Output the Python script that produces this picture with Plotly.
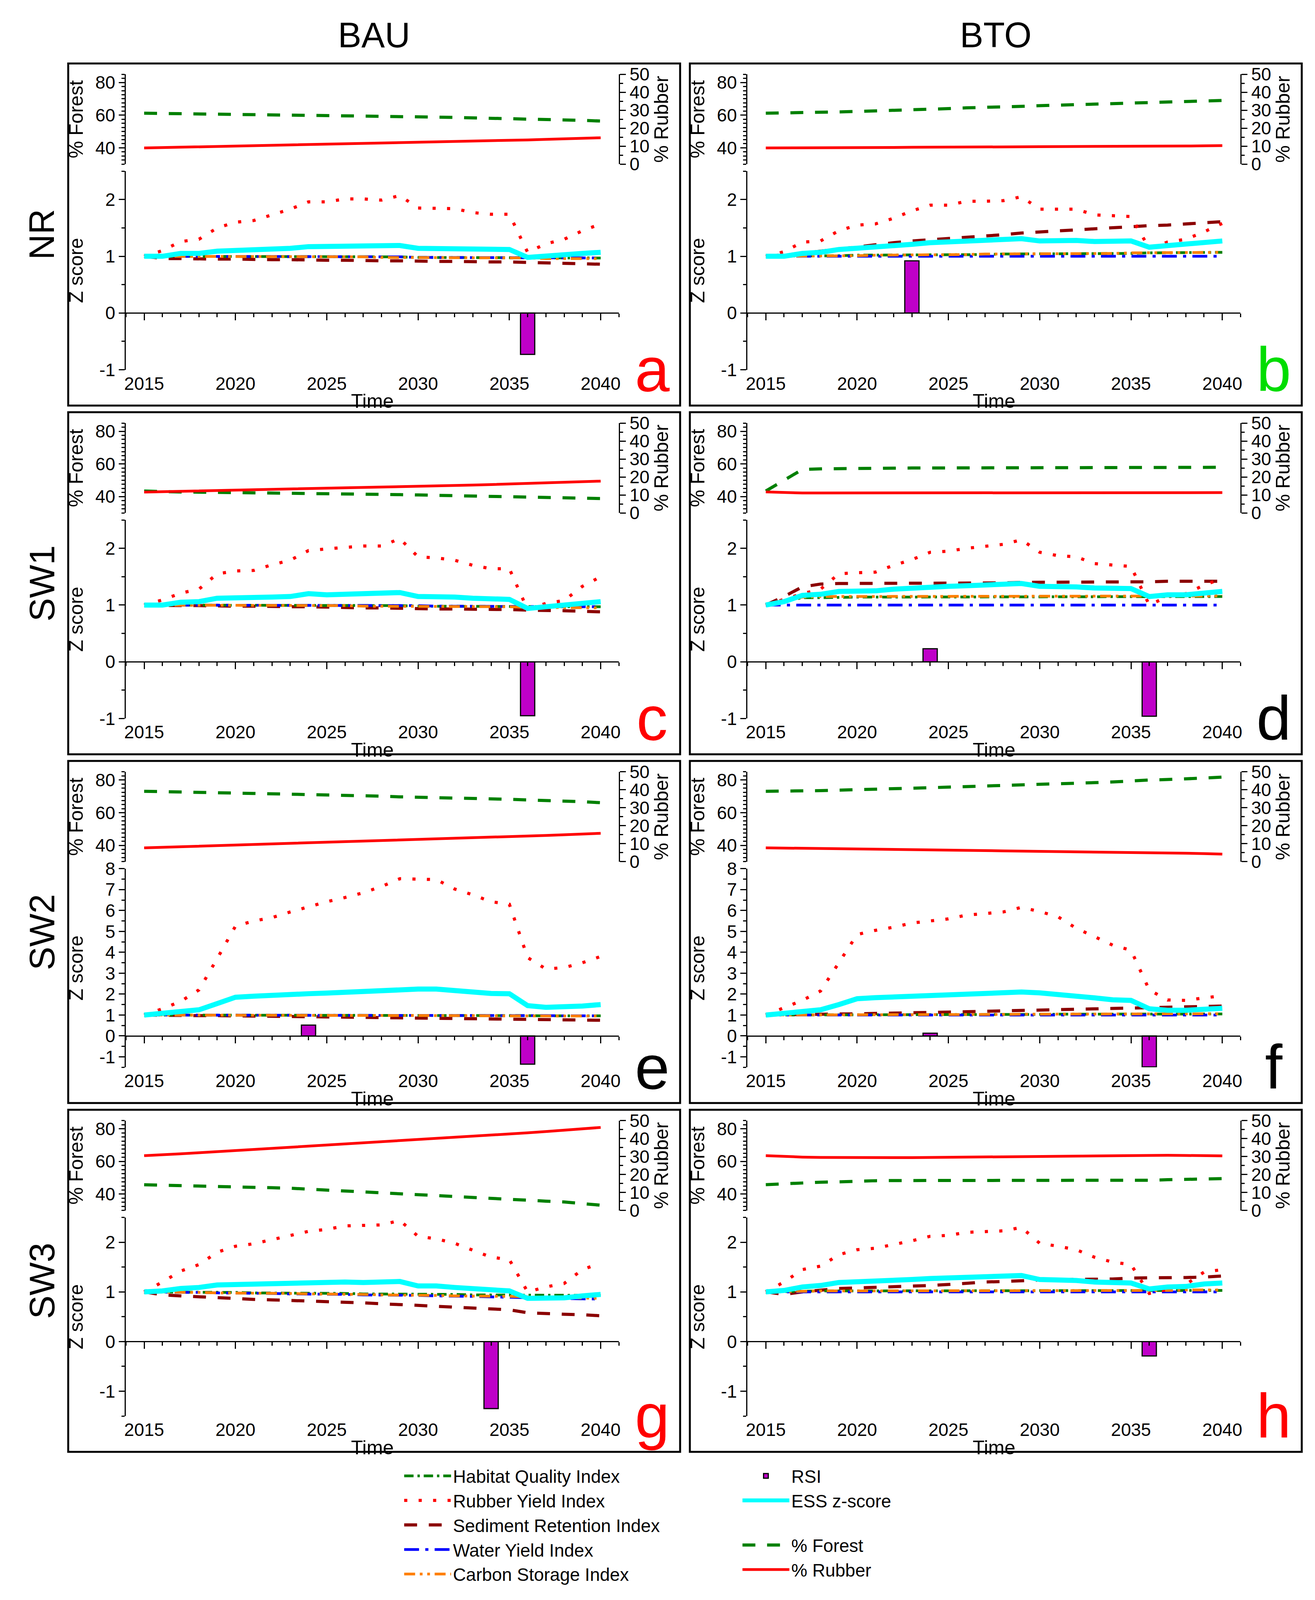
import plotly.graph_objects as go

# ---------------- data ----------------
years = list(range(2015, 2041))
tick_years = [2015, 2020, 2025, 2030, 2035, 2040]
forest_ticks = [40, 60, 80]
rubber_ticks = [0, 10, 20, 30, 40, 50]
z_ticks_small = [-1, 0, 1, 2]
z_ticks_large = [-1, 0, 1, 2, 3, 4, 5, 6, 7, 8]

col_titles = ["BAU", "BTO"]
row_titles = ["NR", "SW1", "SW2", "SW3"]
panel_letters = ["a", "b", "c", "d", "e", "f", "g", "h"]

# ---- panel a (NR, BAU)
forest_a = [61.2, 61.0, 60.9, 60.7, 60.6, 60.4, 60.3, 60.2, 60.0, 59.9, 59.8, 59.6, 59.5, 59.3, 59.2, 59.0, 58.8, 58.6, 58.4, 58.2, 58.0, 57.7, 57.4, 57.1, 56.8, 56.4]
rubber_a = [9.0, 9.2, 9.4, 9.6, 9.8, 10.0, 10.2, 10.4, 10.6, 10.8, 11.0, 11.2, 11.4, 11.6, 11.8, 12.0, 12.3, 12.5, 12.7, 12.9, 13.2, 13.5, 13.8, 14.1, 14.4, 14.7]
hqi_a = [1.00, 1.00, 1.00, 1.00, 1.00, 1.00, 1.00, 0.99, 0.99, 0.99, 0.99, 0.99, 0.99, 0.99, 0.99, 0.98, 0.98, 0.98, 0.98, 0.98, 0.98, 0.98, 0.97, 0.97, 0.97, 0.97]
ryi_a = [1.00, 1.10, 1.26, 1.30, 1.50, 1.60, 1.63, 1.73, 1.83, 1.96, 1.96, 2.01, 2.01, 1.99, 2.07, 1.85, 1.85, 1.84, 1.77, 1.74, 1.74, 1.07, 1.22, 1.30, 1.45, 1.57]
sri_a = [1.00, 0.96, 0.96, 0.95, 0.95, 0.95, 0.94, 0.94, 0.94, 0.93, 0.93, 0.93, 0.92, 0.92, 0.92, 0.91, 0.91, 0.91, 0.90, 0.90, 0.90, 0.89, 0.88, 0.88, 0.87, 0.86]
wyi_a = [1.00, 1.00, 1.00, 1.00, 1.00, 1.00, 1.00, 1.00, 0.99, 0.99, 0.99, 0.99, 0.99, 0.99, 0.99, 0.98, 0.98, 0.98, 0.98, 0.98, 0.98, 0.97, 0.97, 0.97, 0.97, 0.97]
csi_a = [1.00, 1.00, 1.00, 1.00, 1.00, 1.00, 1.00, 0.99, 0.99, 0.99, 0.99, 0.99, 0.99, 0.98, 0.98, 0.98, 0.98, 0.98, 0.98, 0.97, 0.97, 0.97, 0.96, 0.96, 0.96, 0.96]
ess_a = [1.00, 1.00, 1.05, 1.05, 1.09, 1.10, 1.11, 1.13, 1.14, 1.17, 1.17, 1.18, 1.17, 1.17, 1.19, 1.14, 1.14, 1.14, 1.12, 1.12, 1.12, 0.98, 1.01, 1.02, 1.05, 1.07]
rsi_a = [None] * 21 + [-0.73] + [None] * 4

# ---- panel b (NR, BTO)
forest_b = [61.2, 61.3, 61.4, 61.8, 62.0, 62.3, 62.6, 62.8, 63.3, 63.6, 64.0, 64.5, 64.7, 65.0, 65.4, 65.8, 66.1, 66.3, 66.6, 66.9, 67.2, 67.6, 67.9, 68.2, 68.6, 69.0]
rubber_b = [9.0, 9.0, 9.1, 9.1, 9.2, 9.2, 9.3, 9.3, 9.4, 9.4, 9.5, 9.5, 9.6, 9.6, 9.7, 9.7, 9.8, 9.8, 9.9, 9.9, 10.0, 10.0, 10.1, 10.1, 10.2, 10.3]
hqi_b = [1.00, 1.00, 1.01, 1.01, 1.01, 1.02, 1.02, 1.02, 1.02, 1.03, 1.03, 1.03, 1.03, 1.04, 1.04, 1.04, 1.04, 1.05, 1.05, 1.05, 1.05, 1.06, 1.06, 1.06, 1.07, 1.07]
ryi_b = [1.00, 1.08, 1.25, 1.27, 1.45, 1.55, 1.57, 1.67, 1.80, 1.90, 1.90, 1.97, 1.97, 1.98, 2.05, 1.83, 1.83, 1.83, 1.73, 1.71, 1.70, 1.14, 1.25, 1.30, 1.43, 1.58]
sri_b = [1.00, 1.02, 1.05, 1.09, 1.13, 1.17, 1.20, 1.24, 1.27, 1.29, 1.31, 1.34, 1.36, 1.38, 1.41, 1.43, 1.45, 1.47, 1.49, 1.51, 1.52, 1.54, 1.55, 1.57, 1.59, 1.61]
wyi_b = [1.00] * 26
csi_b = [1.00, 1.00, 1.01, 1.01, 1.01, 1.01, 1.02, 1.02, 1.02, 1.03, 1.03, 1.03, 1.04, 1.04, 1.04, 1.04, 1.05, 1.05, 1.05, 1.05, 1.06, 1.06, 1.06, 1.07, 1.07, 1.07]
ess_b = [1.00, 1.00, 1.05, 1.07, 1.12, 1.14, 1.15, 1.18, 1.21, 1.24, 1.25, 1.28, 1.28, 1.29, 1.31, 1.27, 1.28, 1.28, 1.26, 1.26, 1.27, 1.16, 1.19, 1.20, 1.24, 1.27]
rsi_b = [None] * 8 + [0.92] + [None] * 17

# ---- panel c (SW1, BAU)
forest_c = [43.4, 43.0, 42.8, 42.7, 42.6, 42.5, 42.3, 42.2, 42.1, 42.0, 41.9, 41.8, 41.6, 41.4, 41.2, 41.0, 40.8, 40.7, 40.5, 40.4, 40.2, 39.9, 39.6, 39.3, 39.0, 38.8]
rubber_c = [11.6, 11.8, 12.0, 12.2, 12.4, 12.6, 12.8, 13.0, 13.2, 13.4, 13.6, 13.8, 14.0, 14.2, 14.5, 14.7, 15.0, 15.2, 15.5, 15.8, 16.1, 16.4, 16.7, 17.0, 17.3, 17.7]
hqi_c = [1.00, 1.00, 1.00, 1.00, 1.00, 1.00, 1.00, 1.00, 0.99, 0.99, 0.99, 0.99, 0.99, 0.99, 0.99, 0.98, 0.98, 0.98, 0.98, 0.98, 0.98, 0.97, 0.97, 0.97, 0.97, 0.97]
ryi_c = [1.00, 1.09, 1.21, 1.28, 1.55, 1.60, 1.61, 1.71, 1.79, 1.96, 1.99, 2.02, 2.04, 2.04, 2.17, 1.85, 1.83, 1.79, 1.70, 1.64, 1.64, 0.92, 1.03, 1.08, 1.33, 1.50]
sri_c = [1.00, 0.99, 0.99, 0.99, 0.98, 0.98, 0.98, 0.97, 0.97, 0.97, 0.96, 0.96, 0.95, 0.95, 0.94, 0.94, 0.93, 0.93, 0.93, 0.92, 0.92, 0.91, 0.91, 0.90, 0.89, 0.88]
wyi_c = [1.00, 1.00, 1.00, 1.00, 1.00, 1.00, 1.00, 1.00, 0.99, 0.99, 0.99, 0.99, 0.99, 0.99, 0.99, 0.99, 0.98, 0.98, 0.98, 0.98, 0.98, 0.97, 0.97, 0.97, 0.97, 0.97]
csi_c = [1.00, 1.00, 1.00, 1.00, 1.00, 1.00, 0.99, 0.99, 0.99, 0.99, 0.99, 0.99, 0.98, 0.98, 0.98, 0.98, 0.98, 0.97, 0.97, 0.97, 0.97, 0.96, 0.96, 0.96, 0.95, 0.95]
ess_c = [1.00, 1.00, 1.05, 1.06, 1.12, 1.12, 1.12, 1.14, 1.15, 1.20, 1.18, 1.19, 1.19, 1.19, 1.22, 1.15, 1.15, 1.14, 1.12, 1.10, 1.10, 0.94, 0.97, 0.98, 1.03, 1.06]
rsi_c = [None] * 21 + [-0.95] + [None] * 4

# ---- panel d (SW1, BTO)
forest_d = [43.4, 50.0, 56.6, 57.0, 57.2, 57.3, 57.4, 57.4, 57.5, 57.5, 57.5, 57.5, 57.5, 57.5, 57.5, 57.5, 57.6, 57.6, 57.6, 57.6, 57.6, 57.7, 57.7, 57.8, 57.9, 58.0]
rubber_d = [11.7, 11.3, 11.1, 11.1, 11.1, 11.1, 11.1, 11.1, 11.1, 11.2, 11.2, 11.3, 11.3, 11.3, 11.3, 11.3, 11.3, 11.3, 11.3, 11.3, 11.3, 11.3, 11.3, 11.3, 11.3, 11.3]
hqi_d = [1.00, 1.06, 1.13, 1.13, 1.14, 1.14, 1.14, 1.14, 1.14, 1.14, 1.14, 1.14, 1.14, 1.14, 1.14, 1.14, 1.14, 1.14, 1.14, 1.14, 1.14, 1.14, 1.15, 1.15, 1.15, 1.15]
ryi_d = [1.00, 1.10, 1.20, 1.28, 1.55, 1.57, 1.58, 1.70, 1.80, 1.93, 1.95, 2.00, 2.03, 2.07, 2.15, 1.93, 1.87, 1.85, 1.73, 1.70, 1.68, 1.00, 1.15, 1.20, 1.35, 1.47]
sri_d = [1.00, 1.15, 1.32, 1.37, 1.38, 1.38, 1.38, 1.38, 1.38, 1.38, 1.38, 1.38, 1.39, 1.39, 1.40, 1.40, 1.40, 1.41, 1.41, 1.41, 1.41, 1.41, 1.42, 1.42, 1.42, 1.42]
wyi_d = [1.00] * 26
csi_d = [1.00, 1.07, 1.14, 1.15, 1.15, 1.15, 1.15, 1.15, 1.15, 1.15, 1.15, 1.15, 1.15, 1.15, 1.15, 1.15, 1.15, 1.15, 1.15, 1.15, 1.15, 1.16, 1.16, 1.16, 1.16, 1.16]
ess_d = [1.00, 1.06, 1.17, 1.19, 1.24, 1.24, 1.25, 1.28, 1.30, 1.33, 1.33, 1.34, 1.35, 1.36, 1.38, 1.33, 1.33, 1.32, 1.30, 1.29, 1.29, 1.15, 1.18, 1.18, 1.22, 1.24]
rsi_d = [None] * 9 + [0.23] + [None] * 11 + [-0.96] + [None] * 4

# ---- panel e (SW2, BAU)
forest_e = [73.1, 72.8, 72.5, 72.4, 72.2, 72.0, 71.8, 71.6, 71.4, 71.3, 70.9, 70.5, 70.3, 70.1, 69.7, 69.5, 69.3, 69.0, 68.6, 68.4, 68.2, 67.8, 67.5, 67.2, 66.7, 66.1]
rubber_e = [7.7, 8.0, 8.3, 8.6, 8.9, 9.2, 9.5, 9.8, 10.1, 10.4, 10.7, 11.0, 11.3, 11.6, 11.9, 12.2, 12.5, 12.8, 13.1, 13.4, 13.8, 14.2, 14.6, 15.0, 15.4, 15.8]
hqi_e = [1.00, 1.00, 1.00, 1.00, 1.00, 1.00, 0.99, 0.99, 0.99, 0.99, 0.99, 0.99, 0.98, 0.98, 0.98, 0.98, 0.98, 0.97, 0.97, 0.97, 0.97, 0.97, 0.96, 0.96, 0.96, 0.96]
ryi_e = [1.00, 1.30, 1.65, 2.20, 3.70, 5.25, 5.50, 5.66, 5.93, 6.17, 6.42, 6.62, 6.85, 7.15, 7.52, 7.50, 7.48, 7.03, 6.75, 6.42, 6.30, 3.75, 3.20, 3.27, 3.50, 3.80]
sri_e = [1.00, 0.98, 0.98, 0.97, 0.97, 0.96, 0.95, 0.94, 0.94, 0.93, 0.92, 0.91, 0.90, 0.89, 0.88, 0.87, 0.86, 0.85, 0.84, 0.83, 0.82, 0.81, 0.79, 0.78, 0.77, 0.75]
wyi_e = [1.00, 1.00, 1.00, 1.00, 1.00, 1.00, 1.00, 0.99, 0.99, 0.99, 0.99, 0.99, 0.99, 0.98, 0.98, 0.98, 0.98, 0.98, 0.97, 0.97, 0.97, 0.97, 0.97, 0.96, 0.96, 0.96]
csi_e = [1.00, 1.00, 1.00, 1.00, 1.00, 0.99, 0.99, 0.99, 0.99, 0.99, 0.98, 0.98, 0.98, 0.98, 0.98, 0.97, 0.97, 0.97, 0.97, 0.96, 0.96, 0.96, 0.96, 0.95, 0.95, 0.95]
ess_e = [1.00, 1.08, 1.17, 1.25, 1.55, 1.85, 1.90, 1.92, 1.97, 2.02, 2.05, 2.10, 2.13, 2.18, 2.25, 2.24, 2.24, 2.15, 2.10, 2.03, 2.02, 1.45, 1.37, 1.38, 1.43, 1.50]
rsi_e = [None] * 9 + [0.52] + [None] * 11 + [-1.35] + [None] * 4

# ---- panel f (SW2, BTO)
forest_f = [73.1, 73.1, 73.2, 73.5, 73.8, 74.2, 74.5, 74.8, 75.0, 75.3, 75.6, 76.1, 76.3, 76.6, 77.0, 77.5, 77.8, 78.1, 78.4, 78.8, 79.5, 80.0, 80.3, 80.6, 81.2, 81.8]
rubber_f = [7.7, 7.6, 7.5, 7.4, 7.2, 7.0, 6.9, 6.8, 6.6, 6.5, 6.4, 6.3, 6.2, 6.0, 5.9, 5.8, 5.7, 5.6, 5.5, 5.4, 5.2, 5.1, 4.9, 4.7, 4.5, 4.2]
hqi_f = [1.00, 1.00, 1.00, 1.01, 1.01, 1.01, 1.01, 1.02, 1.02, 1.02, 1.02, 1.03, 1.03, 1.03, 1.03, 1.03, 1.04, 1.04, 1.04, 1.04, 1.04, 1.05, 1.05, 1.05, 1.05, 1.05]
ryi_f = [1.00, 1.35, 1.70, 2.15, 3.50, 4.85, 5.05, 5.20, 5.40, 5.50, 5.60, 5.78, 5.86, 5.93, 6.15, 5.95, 5.70, 5.15, 4.75, 4.34, 4.10, 2.20, 1.72, 1.70, 1.82, 1.92]
sri_f = [1.00, 1.02, 1.03, 1.05, 1.05, 1.06, 1.07, 1.08, 1.10, 1.12, 1.14, 1.16, 1.18, 1.20, 1.22, 1.25, 1.27, 1.29, 1.31, 1.33, 1.35, 1.37, 1.39, 1.40, 1.42, 1.43]
wyi_f = [1.00] * 26
csi_f = [1.00, 1.00, 1.01, 1.01, 1.01, 1.01, 1.02, 1.02, 1.02, 1.02, 1.03, 1.03, 1.03, 1.03, 1.04, 1.04, 1.04, 1.04, 1.05, 1.05, 1.05, 1.05, 1.06, 1.06, 1.06, 1.06]
ess_f = [1.00, 1.08, 1.18, 1.25, 1.50, 1.78, 1.83, 1.87, 1.92, 1.95, 1.99, 2.02, 2.04, 2.06, 2.10, 2.06, 2.00, 1.88, 1.82, 1.73, 1.70, 1.30, 1.23, 1.23, 1.28, 1.32]
rsi_f = [None] * 9 + [0.13] + [None] * 11 + [-1.48] + [None] * 4

# ---- panel g (SW3, BAU)
forest_g = [45.7, 45.5, 45.3, 45.0, 44.8, 44.5, 44.3, 43.9, 43.6, 43.0, 42.4, 41.9, 41.4, 40.9, 40.4, 39.7, 39.1, 38.4, 37.8, 37.2, 36.7, 36.2, 35.7, 35.2, 34.4, 33.2]
rubber_g = [30.5, 30.9, 31.5, 32.1, 32.7, 33.3, 33.9, 34.5, 35.1, 35.7, 36.3, 36.9, 37.5, 38.1, 38.7, 39.4, 40.0, 40.6, 41.3, 41.9, 42.5, 43.2, 43.9, 44.6, 45.3, 46.2]
hqi_g = [1.00, 1.00, 1.00, 0.99, 0.99, 0.99, 0.98, 0.98, 0.98, 0.97, 0.97, 0.97, 0.96, 0.96, 0.96, 0.95, 0.95, 0.95, 0.94, 0.94, 0.94, 0.93, 0.93, 0.93, 0.93, 0.93]
ryi_g = [1.00, 1.20, 1.42, 1.55, 1.80, 1.92, 1.97, 2.05, 2.14, 2.22, 2.26, 2.33, 2.34, 2.35, 2.44, 2.12, 2.07, 1.98, 1.84, 1.70, 1.65, 1.00, 1.10, 1.17, 1.45, 1.58]
sri_g = [1.00, 0.94, 0.92, 0.90, 0.89, 0.87, 0.85, 0.84, 0.83, 0.82, 0.80, 0.79, 0.78, 0.76, 0.75, 0.73, 0.71, 0.69, 0.67, 0.66, 0.64, 0.58, 0.56, 0.55, 0.54, 0.52]
wyi_g = [1.00, 1.00, 0.99, 0.99, 0.98, 0.98, 0.97, 0.97, 0.96, 0.96, 0.95, 0.95, 0.94, 0.94, 0.93, 0.93, 0.92, 0.92, 0.91, 0.90, 0.89, 0.88, 0.87, 0.87, 0.86, 0.86]
csi_g = [1.00, 1.00, 0.99, 0.99, 0.98, 0.98, 0.98, 0.97, 0.97, 0.96, 0.96, 0.95, 0.95, 0.94, 0.94, 0.93, 0.93, 0.92, 0.92, 0.91, 0.91, 0.90, 0.89, 0.88, 0.88, 0.87]
ess_g = [1.00, 1.02, 1.07, 1.09, 1.14, 1.15, 1.15, 1.17, 1.17, 1.19, 1.19, 1.20, 1.19, 1.19, 1.21, 1.12, 1.12, 1.09, 1.06, 1.04, 1.02, 0.87, 0.88, 0.88, 0.92, 0.95]
rsi_g = [None] * 19 + [-1.35] + [None] * 6

# ---- panel h (SW3, BTO)
forest_h = [45.8, 46.3, 47.0, 47.3, 47.5, 48.0, 48.2, 48.3, 48.3, 48.3, 48.3, 48.3, 48.3, 48.3, 48.3, 48.3, 48.3, 48.3, 48.3, 48.3, 48.3, 48.5, 48.8, 49.0, 49.3, 49.5]
rubber_h = [30.5, 30.0, 29.7, 29.5, 29.4, 29.4, 29.4, 29.4, 29.4, 29.5, 29.6, 29.8, 29.9, 30.0, 30.1, 30.3, 30.4, 30.5, 30.6, 30.7, 30.8, 30.8, 30.7, 30.6, 30.5, 30.4]
hqi_h = [1.00, 1.01, 1.01, 1.02, 1.02, 1.02, 1.02, 1.02, 1.02, 1.02, 1.02, 1.02, 1.02, 1.02, 1.02, 1.02, 1.02, 1.02, 1.02, 1.02, 1.02, 1.02, 1.02, 1.03, 1.03, 1.03]
ryi_h = [1.00, 1.20, 1.45, 1.52, 1.75, 1.85, 1.88, 1.95, 2.03, 2.12, 2.14, 2.20, 2.21, 2.23, 2.30, 1.98, 1.92, 1.85, 1.70, 1.60, 1.55, 0.97, 1.05, 1.15, 1.40, 1.45]
sri_h = [1.00, 0.95, 1.00, 1.04, 1.07, 1.08, 1.09, 1.10, 1.11, 1.13, 1.15, 1.18, 1.20, 1.21, 1.23, 1.24, 1.25, 1.25, 1.26, 1.26, 1.28, 1.28, 1.29, 1.29, 1.30, 1.32]
wyi_h = [1.00] * 26
csi_h = [1.00, 1.01, 1.01, 1.02, 1.02, 1.02, 1.02, 1.02, 1.02, 1.02, 1.02, 1.02, 1.02, 1.02, 1.02, 1.02, 1.02, 1.03, 1.03, 1.03, 1.03, 1.03, 1.03, 1.04, 1.04, 1.04]
ess_h = [1.00, 1.03, 1.10, 1.13, 1.19, 1.20, 1.21, 1.24, 1.25, 1.27, 1.28, 1.30, 1.30, 1.30, 1.33, 1.25, 1.25, 1.23, 1.20, 1.18, 1.18, 1.06, 1.10, 1.11, 1.16, 1.18]
rsi_h = [None] * 21 + [-0.29] + [None] * 4

panels = [
    (forest_a, rubber_a, hqi_a, ryi_a, sri_a, wyi_a, csi_a, ess_a, rsi_a),
    (forest_b, rubber_b, hqi_b, ryi_b, sri_b, wyi_b, csi_b, ess_b, rsi_b),
    (forest_c, rubber_c, hqi_c, ryi_c, sri_c, wyi_c, csi_c, ess_c, rsi_c),
    (forest_d, rubber_d, hqi_d, ryi_d, sri_d, wyi_d, csi_d, ess_d, rsi_d),
    (forest_e, rubber_e, hqi_e, ryi_e, sri_e, wyi_e, csi_e, ess_e, rsi_e),
    (forest_f, rubber_f, hqi_f, ryi_f, sri_f, wyi_f, csi_f, ess_f, rsi_f),
    (forest_g, rubber_g, hqi_g, ryi_g, sri_g, wyi_g, csi_g, ess_g, rsi_g),
    (forest_h, rubber_h, hqi_h, ryi_h, sri_h, wyi_h, csi_h, ess_h, rsi_h),
]

# ---------------- layout / styles ----------------
# positions below are measured on a 3366 x 4490 grid and used as fractions of the page
REF_W, REF_H = 3366, 4490
W, H = 3366, 4085
FONT = "Liberation Sans, Arial, sans-serif"
COL_X = [163, 1758]
ROW_Y = [143, 1137, 2131, 3125]
BOX_W, BOX_H = 1570, 975
AX_L, AX_R = 148, 1413
TOP_T, TOP_B = 31, 287
Z_T, Z_B = 307, 873
X_RANGE = [2014, 2041]
FOREST_RANGE = [30, 85]
RUBBER_RANGE = [0, 50]
Z_RANGES = [[-1, 2.5], [-1, 2.5], [-1, 2.5], [-1, 2.5], [-1.5, 8], [-1.5, 8], [-1.5, 2.5], [-1.5, 2.5]]
LETTER_COLORS = ["#FF0000", "#00DD00", "#FF0000", "#000000", "#000000", "#000000", "#FF0000", "#FF0000"]

C_GREEN = "#008000"
C_RED = "#FF0000"
C_DRED = "#8B0000"
C_BLUE = "#0000FF"
C_ORANGE = "#FF8000"
C_CYAN = "#00FFFF"
C_PURPLE = "#BF00C8"

TICKF = dict(family=FONT, size=46, color="black")
TITLEF = dict(family=FONT, size=50, color="black")


def fx(x):
    return x / REF_W


def fy(y):
    return 1 - y / REF_H


def an(prefix, n):
    return prefix if n == 1 else f"{prefix}{n}"


fig = go.Figure()
layout = {}
annotations = []
shapes = []

for i, (forest, rubber, hqi, ryi, sri, wyi, csi, ess, rsi) in enumerate(panels):
    row, col = divmod(i, 2)
    bx, by = COL_X[col], ROW_Y[row]
    xa, xb = 2 * i + 1, 2 * i + 2
    yz, yf, yr = 3 * i + 1, 3 * i + 2, 3 * i + 3
    zr = Z_RANGES[i]
    show = i == 0

    xd = [fx(bx + AX_L), fx(bx + AX_R)]
    zdom = [fy(by + Z_B), fy(by + Z_T)]
    fdom = [fy(by + TOP_B), fy(by + TOP_T)]
    zero_pos = zdom[0] + (0 - zr[0]) / (zr[1] - zr[0]) * (zdom[1] - zdom[0])

    XA, XB = an("x", xa), an("x", xb)
    YZ, YF, YR = an("y", yz), an("y", yf), an("y", yr)

    fig.add_trace(go.Bar(x=years, y=rsi, xaxis=XB, yaxis=YZ, width=0.78,
                         marker=dict(color=C_PURPLE, line=dict(color="black", width=3)),
                         name="RSI", showlegend=show, legend="legend2", legendrank=1))
    fig.add_trace(go.Scatter(x=years, y=forest, xaxis=XA, yaxis=YF, mode="lines",
                             line=dict(color=C_GREEN, width=8, dash="33px,30px"),
                             name="% Forest", showlegend=show, legend="legend3", legendrank=1))
    fig.add_trace(go.Scatter(x=years, y=rubber, xaxis=XA, yaxis=YR, mode="lines",
                             line=dict(color=C_RED, width=7),
                             name="% Rubber", showlegend=show, legend="legend3", legendrank=2))
    fig.add_trace(go.Scatter(x=years, y=sri, xaxis=XB, yaxis=YZ, mode="lines",
                             line=dict(color=C_DRED, width=8, dash="33px,30px"),
                             name="Sediment Retention Index", showlegend=show, legendrank=3))
    fig.add_trace(go.Scatter(x=years, y=hqi, xaxis=XB, yaxis=YZ, mode="lines",
                             line=dict(color=C_GREEN, width=7, dash="24px,10px,6px,10px"),
                             name="Habitat Quality Index", showlegend=show, legendrank=1))
    fig.add_trace(go.Scatter(x=years, y=wyi, xaxis=XB, yaxis=YZ, mode="lines",
                             line=dict(color=C_BLUE, width=7, dash="38px,16px,8px,16px"),
                             name="Water Yield Index", showlegend=show, legendrank=4))
    fig.add_trace(go.Scatter(x=years, y=csi, xaxis=XB, yaxis=YZ, mode="lines",
                             line=dict(color=C_ORANGE, width=7, dash="28px,12px,7px,12px,7px,12px"),
                             name="Carbon Storage Index", showlegend=show, legendrank=5))
    fig.add_trace(go.Scatter(x=years, y=ryi, xaxis=XB, yaxis=YZ, mode="lines",
                             line=dict(color=C_RED, width=8, dash="8px,29px"),
                             name="Rubber Yield Index", showlegend=show, legendrank=2))
    fig.add_trace(go.Scatter(x=years, y=ess, xaxis=XB, yaxis=YZ, mode="lines",
                             line=dict(color=C_CYAN, width=13),
                             name="ESS z-score", showlegend=show, legend="legend2", legendrank=2))

    z_ticks = z_ticks_large if zr[1] > 5 else z_ticks_small

    layout[an("xaxis", xa)] = dict(
        domain=xd, range=X_RANGE, anchor=YZ, showline=False, ticks="",
        tickvals=tick_years, ticktext=[str(t) for t in tick_years], tickfont=TICKF,
        ticklabelstandoff=4, showgrid=False, zeroline=False, fixedrange=True,
        title=dict(text="Time", font=TITLEF, standoff=2))
    layout[an("xaxis", xb)] = dict(
        domain=xd, range=X_RANGE, anchor="free", position=zero_pos, overlaying=XA,
        showline=True, linecolor="black", linewidth=3,
        ticks="outside", ticklen=17, tickwidth=3, tickcolor="black",
        tickmode="linear", tick0=2015, dtick=5, showticklabels=False,
        minor=dict(ticks="outside", ticklen=9, tickwidth=3, tickcolor="black",
                   tickmode="linear", tick0=2015, dtick=1, showgrid=False),
        showgrid=False, zeroline=False)
    layout[an("yaxis", yz)] = dict(
        domain=zdom, range=zr, anchor=XA, showline=True, linecolor="black", linewidth=3,
        ticks="outside", ticklen=15, tickwidth=3, tickcolor="black",
        tickvals=z_ticks, ticktext=[str(t) for t in z_ticks], tickfont=TICKF,
        minor=dict(ticks="outside", ticklen=8, tickwidth=3, tickcolor="black",
                   tickmode="linear", tick0=0, dtick=0.5, showgrid=False),
        showgrid=False, zeroline=False,
        title=dict(text="Z score", font=TITLEF, standoff=26))
    layout[an("yaxis", yf)] = dict(
        domain=fdom, range=FOREST_RANGE, anchor=XA, side="left",
        showline=True, linecolor="black", linewidth=3,
        ticks="outside", ticklen=15, tickwidth=3, tickcolor="black",
        tickvals=forest_ticks, ticktext=[str(t) for t in forest_ticks], tickfont=TICKF,
        minor=dict(ticks="outside", ticklen=8, tickwidth=3, tickcolor="black",
                   tickmode="linear", tick0=30, dtick=2.5, showgrid=False),
        showgrid=False, zeroline=False,
        title=dict(text="% Forest", font=TITLEF, standoff=16))
    layout[an("yaxis", yr)] = dict(
        overlaying=YF, range=RUBBER_RANGE, anchor=XA, side="right",
        showline=True, linecolor="black", linewidth=3,
        ticks="outside", ticklen=15, tickwidth=3, tickcolor="black",
        tickvals=rubber_ticks, ticktext=[str(t) for t in rubber_ticks], tickfont=TICKF,
        minor=dict(ticks="outside", ticklen=8, tickwidth=3, tickcolor="black",
                   tickmode="linear", tick0=0, dtick=5, showgrid=False),
        showgrid=False, zeroline=False,
        title=dict(text="% Rubber", font=TITLEF, standoff=14))

    shapes.append(dict(type="rect", xref="paper", yref="paper",
                       x0=fx(bx), x1=fx(bx + BOX_W), y0=fy(by + BOX_H), y1=fy(by),
                       line=dict(color="black", width=5), layer="above"))
    annotations.append(dict(text=panel_letters[i], xref="paper", yref="paper",
                            x=fx(bx + 1498), y=fy(by + 872), xanchor="center", yanchor="middle",
                            showarrow=False, font=dict(family=FONT, size=160, color=LETTER_COLORS[i])))

for c, t in enumerate(col_titles):
    annotations.append(dict(text=t, xref="paper", yref="paper", x=fx(COL_X[c] + BOX_W / 2), y=fy(62),
                            xanchor="center", yanchor="middle", showarrow=False,
                            font=dict(family=FONT, size=90, color="black")))
for r, t in enumerate(row_titles):
    annotations.append(dict(text=t, xref="paper", yref="paper", x=fx(96), y=fy(ROW_Y[r] + BOX_H / 2),
                            xanchor="center", yanchor="middle", textangle=-90, showarrow=False,
                            font=dict(family=FONT, size=90, color="black")))

LEGF = dict(family=FONT, size=46, color="black")
layout.update(
    width=W, height=H, autosize=False,
    margin=dict(l=0, r=0, t=0, b=0, pad=0),
    paper_bgcolor="white", plot_bgcolor="rgba(0,0,0,0)",
    font=dict(family=FONT, color="black"),
    barmode="overlay",
    showlegend=True,
    legend=dict(x=fx(1020), y=fy(4128), xanchor="left", yanchor="top", font=LEGF,
                itemwidth=120, bgcolor="rgba(0,0,0,0)", borderwidth=0),
    legend2=dict(x=fx(1888), y=fy(4128), xanchor="left", yanchor="top", font=LEGF,
                 itemwidth=120, bgcolor="rgba(0,0,0,0)", borderwidth=0),
    legend3=dict(x=fx(1888), y=fy(4325), xanchor="left", yanchor="top", font=LEGF,
                 itemwidth=120, bgcolor="rgba(0,0,0,0)", borderwidth=0),
    annotations=annotations,
    shapes=shapes,
)
fig.update_layout(layout)
fig.write_html("out.html")
